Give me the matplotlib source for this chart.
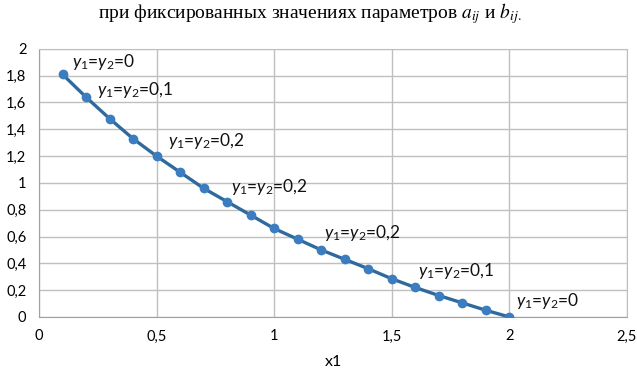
import matplotlib.pyplot as plt
from matplotlib.ticker import FuncFormatter

plt.rcParams["mathtext.fontset"] = "custom"
plt.rcParams["mathtext.it"] = "Lato:italic"
plt.rcParams["mathtext.rm"] = "Lato"

x1 = [0.1, 0.2, 0.3, 0.4, 0.5, 0.6, 0.7, 0.8, 0.9, 1.0,
      1.1, 1.2, 1.3, 1.4, 1.5, 1.6, 1.7, 1.8, 1.9, 2.0]
x2 = [1.81, 1.64, 1.48, 1.33, 1.20, 1.08, 0.96, 0.86, 0.76, 0.66,
      0.58, 0.50, 0.43, 0.36, 0.285, 0.22, 0.16, 0.105, 0.05, 0.0]

# labels: (x, y, value)
label_x = [0.14, 0.245, 0.55, 0.815, 1.21, 1.61, 2.03]
label_y = [1.90, 1.69, 1.31, 0.97, 0.63, 0.34, 0.12]
label_val = ["0", "0,1", "0,2", "0,2", "0,2", "0,1", "0"]

fig = plt.figure(figsize=(6.37, 3.76), dpi=100)
ax = fig.add_axes([0.0612, 0.157, 0.923, 0.713])

ax.plot(x1, x2, color="#2F6A9E", lw=2.4, marker="o", ms=6,
        mfc="#3C7DC0", mec="#3C7DC0", zorder=3)

for lx, ly, v in zip(label_x, label_y, label_val):
    ax.text(lx, ly, r"$y_1$=$y_2$=" + v, fontsize=12.5, family="Lato",
            va="center", ha="left", color="#111111", zorder=4)

ax.set_xlim(0, 2.5)
ax.set_ylim(0, 2)
ax.set_xticks([0, 0.5, 1, 1.5, 2, 2.5])
ax.set_yticks([0, 0.2, 0.4, 0.6, 0.8, 1, 1.2, 1.4, 1.6, 1.8, 2])
fmt = FuncFormatter(lambda v, p: f"{v:g}".replace(".", ","))
ax.xaxis.set_major_formatter(fmt)
ax.yaxis.set_major_formatter(fmt)
ax.grid(True, color="#BFBFBF", lw=1)
ax.set_axisbelow(True)
for s in ax.spines.values():
    s.set_color("#BFBFBF")
ax.spines["left"].set_color("#A0A0A0")
ax.spines["bottom"].set_color("#A0A0A0")
ax.tick_params(length=0, labelsize=10.5, pad=9)
for lab in ax.get_xticklabels() + ax.get_yticklabels():
    lab.set_family("Lato")
ax.set_xlabel("x1", family="Lato", fontsize=11.5, labelpad=8)

fig.text(0.487, 0.965, "при фиксированных значениях параметров $a_{ij}$ и $b_{ij.}$",
         ha="center", va="center", family="Liberation Serif", fontsize=14,
         math_fontfamily="stix")

fig.savefig("out.png", dpi=100)
